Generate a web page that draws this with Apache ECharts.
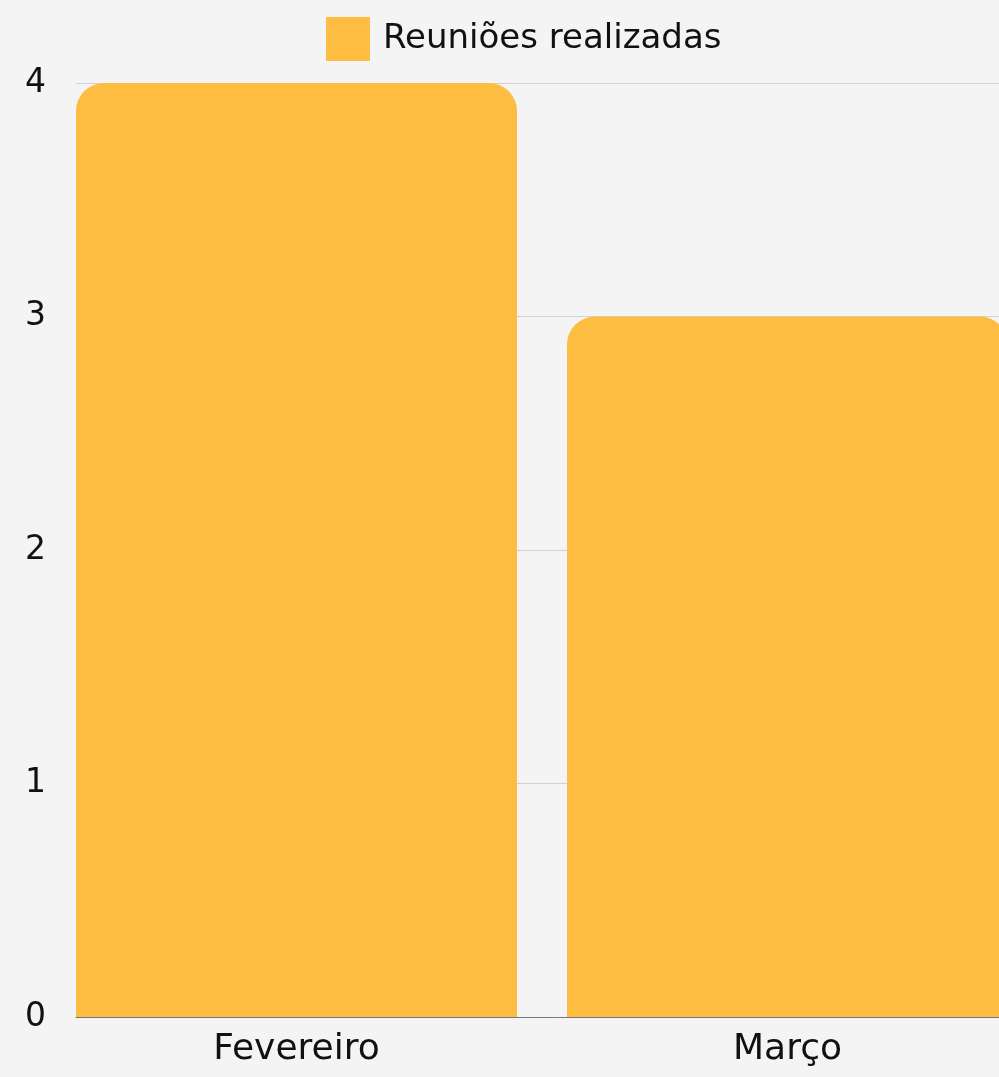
<!DOCTYPE html>
<html>
<head>
<meta charset="utf-8">
<script src="https://cdn.jsdelivr.net/npm/echarts@6/dist/echarts.min.js"></script>
<style>
html,body{margin:0;padding:0;background:#f4f4f4;overflow:hidden;width:999px;height:1077px;}
#c{width:1074px;height:1077px;}
</style>
</head>
<body>
<div id="c"></div>
<script>
const categories = ['Fevereiro', 'Março'];
const seriesName = 'Reuniões realizadas';
const values = [4, 3];
const yTicks = [0, 1, 2, 3, 4];

const FONT = '"DejaVu Sans", sans-serif';
const TXT = '#111111';
const chart = echarts.init(document.getElementById('c'), null, {renderer: 'canvas'});
chart.setOption({
  backgroundColor: '#f4f4f4',
  animation: false,
  legend: {
    left: 326, top: 17, padding: 0,
    itemWidth: 44, itemHeight: 44, itemGap: 13,
    icon: 'rect',
    textStyle: {fontFamily: FONT, fontSize: 34, color: TXT, padding: [0, 0, 0, 8]},
    data: [seriesName]
  },
  grid: [
    {left: 76, right: 41, top: 83, bottom: 60, containLabel: false},
    {left: 51, right: 41, top: 83, bottom: 60, containLabel: false}
  ],
  xAxis: [
    {
      type: 'category', gridIndex: 0, data: categories,
      axisLine: {show: true, lineStyle: {color: '#777', width: 1}},
      axisTick: {show: false},
      axisLabel: {show: false}
    },
    {
      type: 'category', gridIndex: 1, data: categories,
      axisLine: {show: false},
      axisTick: {show: false},
      axisLabel: {fontFamily: FONT, fontSize: 36, color: TXT, margin: 15}
    }
  ],
  yAxis: [
    {
      type: 'value', gridIndex: 0,
      min: yTicks[0], max: yTicks[yTicks.length - 1], interval: 1,
      axisLine: {show: false},
      axisTick: {show: false},
      splitLine: {lineStyle: {color: '#d2d2d2', width: 1}},
      axisLabel: {fontFamily: FONT, fontSize: 33, color: TXT, margin: 30}
    },
    {
      type: 'value', gridIndex: 1,
      min: yTicks[0], max: yTicks[yTicks.length - 1], interval: 1,
      show: false
    }
  ],
  series: [{
    name: seriesName,
    type: 'bar',
    xAxisIndex: 1, yAxisIndex: 1,
    data: values,
    barWidth: 441,
    itemStyle: {color: '#FDBD40', borderRadius: [28, 28, 0, 0]}
  }]
});
</script>
</body>
</html>
